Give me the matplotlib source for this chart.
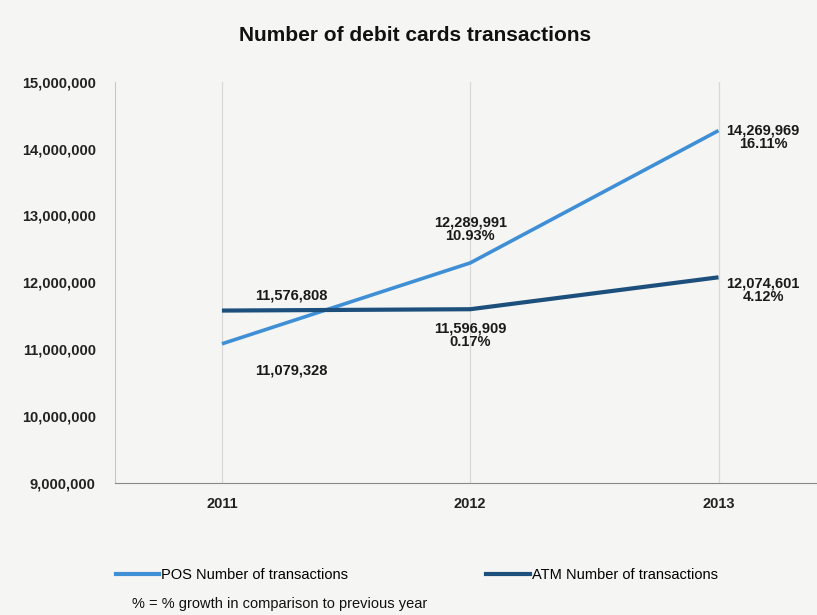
import matplotlib.pyplot as plt
from matplotlib.ticker import FuncFormatter
from matplotlib.lines import Line2D

plt.rcParams['font.family'] = ['Liberation Sans', 'DejaVu Sans']

years = ['2011', '2012', '2013']
pos_values = [11079328, 12289991, 14269969]
atm_values = [11576808, 11596909, 12074601]
pos_growth = ['', '10.93%', '16.11%']
atm_growth = ['', '0.17%', '4.12%']

pos_color = '#3f8fd6'
atm_color = '#1d4f7c'
bg = '#f5f5f3'

fig = plt.figure(figsize=(8.17, 6.15), dpi=100, facecolor=bg)
ax = fig.add_axes([0.141, 0.215, 0.86, 0.652], facecolor=bg)

x = list(range(len(years)))
ax.plot(x, pos_values, color=pos_color, linewidth=2.6, solid_capstyle='butt')
ax.plot(x, atm_values, color=atm_color, linewidth=3, solid_capstyle='butt')

ax.set_xlim(-0.43, 2.4)
ax.set_ylim(9000000, 15000000)
ax.set_yticks(range(9000000, 15000001, 1000000))
ax.yaxis.set_major_formatter(FuncFormatter(lambda v, p: '{:,.0f}'.format(v)))
ax.set_xticks(x)
ax.set_xticklabels(years)
ax.tick_params(length=0, labelsize=10.5, pad=10)
for lab in ax.get_xticklabels() + ax.get_yticklabels():
    lab.set_fontweight('bold')
    lab.set_color('#222222')
ax.tick_params(axis='y', pad=14)

# light vertical grid at each year
for xi in x:
    ax.axvline(xi, color='#d8d8d8', linewidth=0.9, zorder=0)

for s in ['top', 'right']:
    ax.spines[s].set_visible(False)
ax.spines['left'].set_color('#c8c8c8')
ax.spines['bottom'].set_color('#888888')

# value labels
lab_kw = dict(ha='center', fontsize=10.5, fontweight='bold', color='#1a1a1a', linespacing=0.95)
ax.text(0.28, pos_values[0] - 300000, '{:,}'.format(pos_values[0]), va='top', **lab_kw)
ax.text(0.28, atm_values[0] + 120000, '{:,}'.format(atm_values[0]), va='bottom', **lab_kw)
ax.text(1.0, pos_values[1] + 300000, '{:,}\n{}'.format(pos_values[1], pos_growth[1]), va='bottom', **lab_kw)
ax.text(1.0, atm_values[1] - 180000, '{:,}\n{}'.format(atm_values[1], atm_growth[1]), va='top', **lab_kw)
ax.text(2.18, pos_values[2] - 100000, '{:,}\n{}'.format(pos_values[2], pos_growth[2]), va='center', **lab_kw)
ax.text(2.18, atm_values[2] - 200000, '{:,}\n{}'.format(atm_values[2], atm_growth[2]), va='center', **lab_kw)

fig.text(0.508, 0.943, 'Number of debit cards transactions', ha='center', va='center',
         fontsize=15, fontweight='bold', color='#111111')

# legend below the plot
leg_items = [Line2D([0], [0], color=pos_color, linewidth=3),
             Line2D([0], [0], color=atm_color, linewidth=3)]
leg = fig.legend(leg_items, ['POS Number of transactions', 'ATM Number of transactions'],
                 loc='center', bbox_to_anchor=(0.51, 0.065), ncol=2, frameon=False,
                 handlelength=3.0, handletextpad=0.1, columnspacing=9.5, fontsize=10.5)
fig.text(0.162, 0.018, '% = % growth in comparison to previous year', ha='left', va='center',
         fontsize=10.5, color='#111111')

fig.savefig('out.png', dpi=100, facecolor=bg)
